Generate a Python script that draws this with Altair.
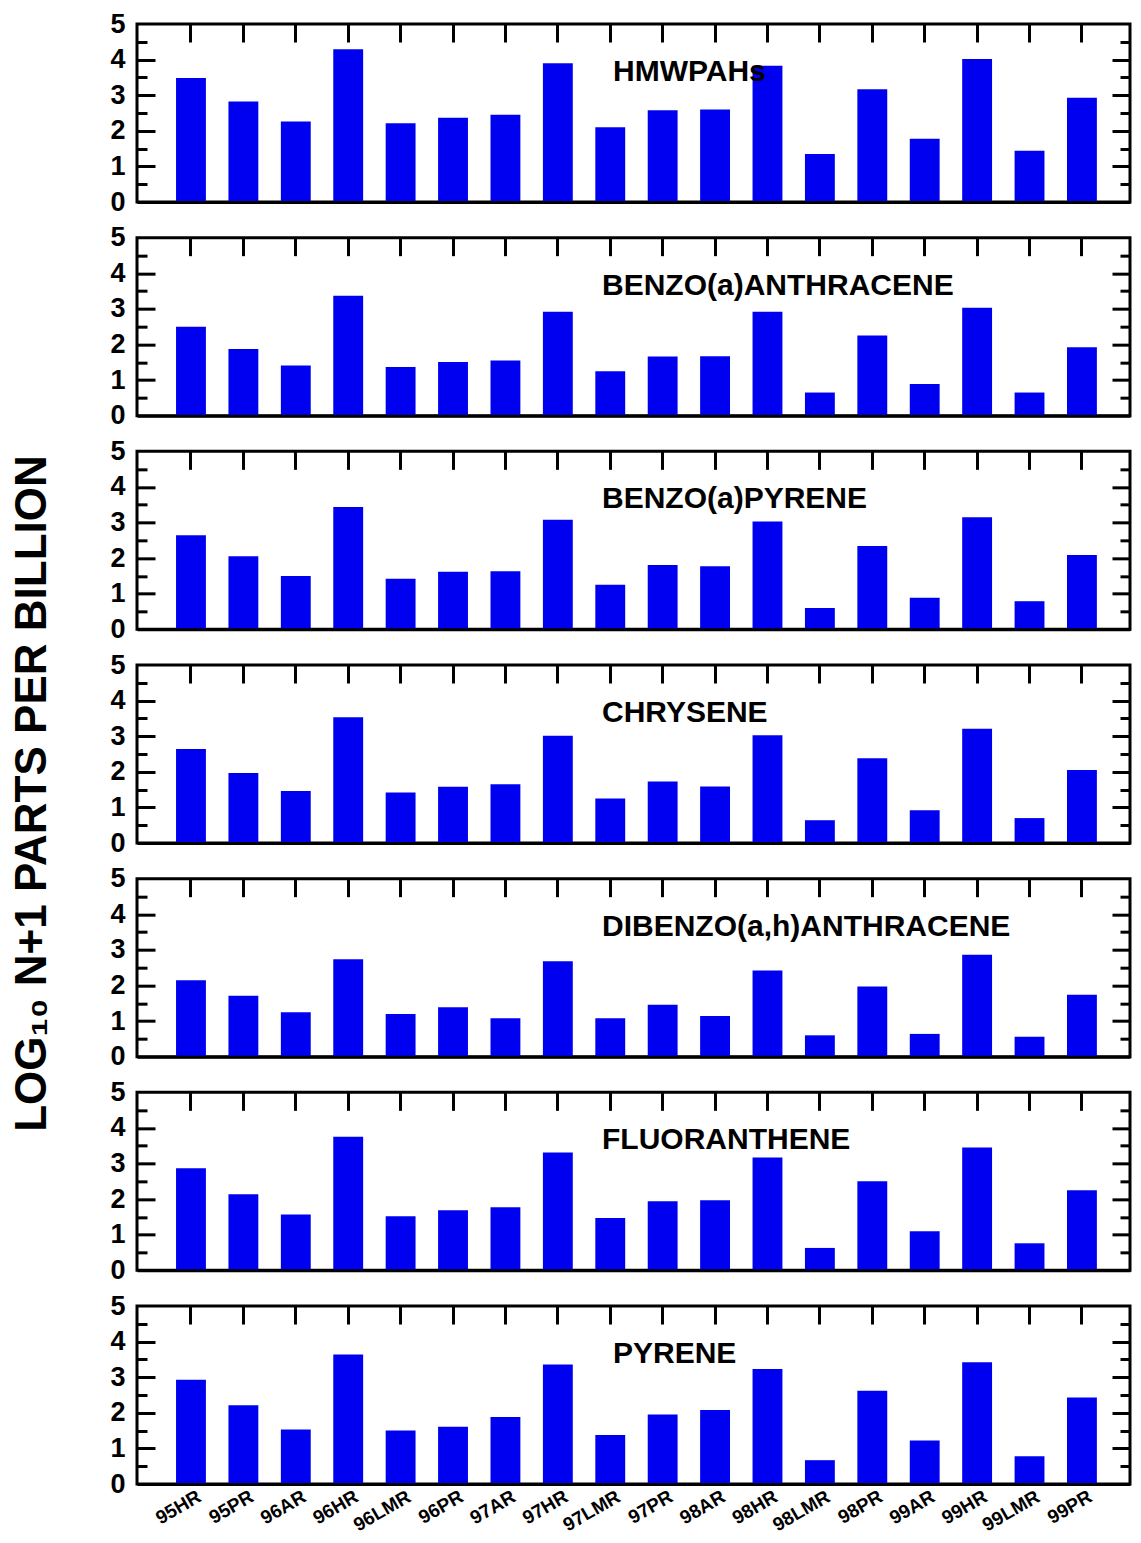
import altair as alt
import pandas as pd

cats = ["95HR", "95PR", "96AR", "96HR", "96LMR", "96PR", "97AR", "97HR", "97LMR",
        "97PR", "98AR", "98HR", "98LMR", "98PR", "99AR", "99HR", "99LMR", "99PR"]

panel_names = ["HMWPAHs", "BENZO(a)ANTHRACENE", "BENZO(a)PYRENE", "CHRYSENE",
               "DIBENZO(a,h)ANTHRACENE", "FLUORANTHENE", "PYRENE"]

hmwpahs = [3.48, 2.82, 2.26, 4.29, 2.21, 2.37, 2.45, 3.90, 2.10, 2.58, 2.60, 3.83, 1.35, 3.17, 1.78, 4.02, 1.44, 2.93]
benzo_a_anthracene = [2.50, 1.87, 1.41, 3.37, 1.37, 1.51, 1.55, 2.92, 1.25, 1.66, 1.67, 2.92, 0.65, 2.25, 0.89, 3.03, 0.65, 1.92]
benzo_a_pyrene = [2.64, 2.05, 1.50, 3.44, 1.42, 1.62, 1.63, 3.08, 1.25, 1.81, 1.77, 3.03, 0.60, 2.34, 0.89, 3.15, 0.79, 2.09]
chrysene = [2.64, 1.97, 1.46, 3.53, 1.42, 1.58, 1.65, 3.01, 1.25, 1.73, 1.59, 3.03, 0.64, 2.38, 0.92, 3.21, 0.70, 2.05]
dibenzo_ah_anthracene = [2.15, 1.71, 1.25, 2.74, 1.20, 1.39, 1.08, 2.68, 1.08, 1.46, 1.14, 2.42, 0.60, 1.97, 0.64, 2.86, 0.56, 1.74]
fluoranthene = [2.87, 2.14, 1.57, 3.75, 1.52, 1.69, 1.77, 3.31, 1.47, 1.94, 1.97, 3.17, 0.63, 2.50, 1.10, 3.45, 0.76, 2.25]
pyrene = [2.93, 2.21, 1.53, 3.64, 1.50, 1.61, 1.88, 3.36, 1.38, 1.95, 2.08, 3.23, 0.67, 2.62, 1.22, 3.42, 0.78, 2.43]

series = [hmwpahs, benzo_a_anthracene, benzo_a_pyrene, chrysene,
          dibenzo_ah_anthracene, fluoranthene, pyrene]

y_major = [0, 1, 2, 3, 4, 5]
y_major_inner = [1, 2, 3, 4]
y_minor = [0.5, 1.5, 2.5, 3.5, 4.5]

Y_TITLE = "LOG\u2081\u2080 N+1 PARTS PER BILLION"

W, H = 993, 178
BLUE = "#0000f0"
FONT = "Liberation Sans"
label_dx = [476, 465, 465, 465, 465, 465, 476]
LABEL_Y = 57


def panel(i):
    df = pd.DataFrame({"site": cats, "value": series[i]})
    last = i == len(series) - 1
    xscale = alt.Scale(paddingInner=0.43, paddingOuter=0.6885, align=0.541)
    yscale = alt.Scale(domain=[0, 5], nice=False, zero=True)
    base = alt.Chart(df)

    xaxis_main = alt.Axis(orient="bottom", labels=last, ticks=False, domain=True,
                          domainColor="black", domainWidth=3, zindex=1,
                          labelAngle=-30, labelAlign="right", labelBaseline="top",
                          labelFont=FONT, labelFontSize=19, labelFontWeight="bold",
                          labelColor="black", labelPadding=3, labelOffset=4, title=None)
    yaxis_kwargs = dict(orient="left", values=y_major, ticks=False, domain=False, grid=False,
                        labelFont=FONT, labelFontSize=27, labelFontWeight="bold",
                        labelColor="black", labelPadding=12)
    if i == 3:
        yaxis_main = alt.Axis(title=Y_TITLE, titleFont=FONT, titleFontSize=44,
                              titleFontWeight="bold", titleColor="black", titleAngle=270,
                              titleBaseline="alphabetic", titleAlign="center",
                              titleX=-92, titleY=128, **yaxis_kwargs)
    else:
        yaxis_main = alt.Axis(title=None, **yaxis_kwargs)

    bars = base.mark_bar(color=BLUE).encode(
        x=alt.X("site:N", sort=cats, scale=xscale, axis=xaxis_main),
        y=alt.Y("value:Q", scale=yscale, axis=yaxis_main),
    )

    def tick_layer(xaxis, yaxis):
        return base.mark_bar(opacity=0).encode(
            x=alt.X("site:N", sort=cats, scale=xscale, axis=xaxis),
            y=alt.Y("value:Q", scale=yscale, axis=yaxis),
        )

    tick_common = dict(labels=False, domain=False, grid=False, tickColor="black",
                       tickWidth=3, title=None, zindex=1)
    top_ticks = alt.Axis(orient="top", offset=-18, tickSize=18, **tick_common)
    left_major = alt.Axis(orient="left", values=y_major_inner, offset=-18, tickSize=18, **tick_common)
    left_minor = alt.Axis(orient="left", values=y_minor, offset=-10, tickSize=10, **tick_common)
    right_major = alt.Axis(orient="right", values=y_major_inner, offset=-18, tickSize=18, **tick_common)
    right_minor = alt.Axis(orient="right", values=y_minor, offset=-10, tickSize=10, **tick_common)

    label_df = pd.DataFrame({"name": [panel_names[i]]})
    label = alt.Chart(label_df).mark_text(
        align="left", baseline="alphabetic", font=FONT, fontSize=30,
        fontWeight="bold", color="black"
    ).encode(text="name:N", x=alt.value(label_dx[i]), y=alt.value(LABEL_Y))

    layers = [
        bars,
        tick_layer(top_ticks, left_major),
        tick_layer(None, left_minor),
        tick_layer(None, right_major),
        tick_layer(None, right_minor),
        label,
    ]
    return alt.layer(*layers).resolve_scale(x="shared", y="shared").resolve_axis(
        x="independent", y="independent"
    ).properties(width=W, height=H)


chart = alt.vconcat(*[panel(i) for i in range(len(series))], spacing=35.67, bounds="flush").properties(
    padding={"left": 0, "top": 0, "right": 0, "bottom": 0}
).configure_view(stroke="black", strokeWidth=3)

chart.save("out.html", embed_options={"renderer": "svg", "actions": False})
